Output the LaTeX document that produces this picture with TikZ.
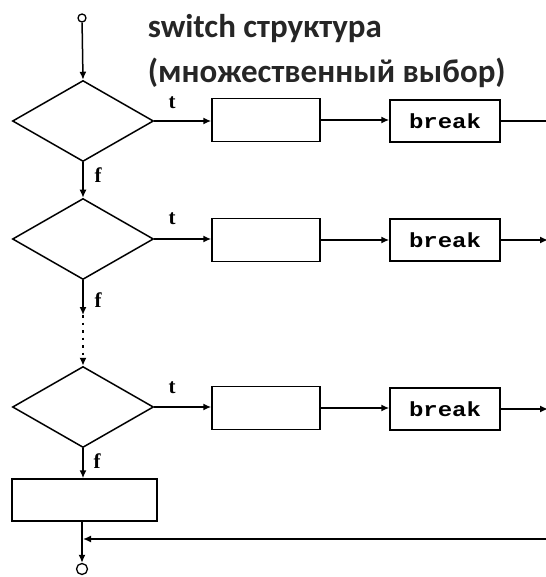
\documentclass[tikz,border=0pt]{standalone}
\usepackage{fontspec}
\setmainfont{Carlito}
\newfontfamily\monofont{Liberation Mono}
\newfontfamily\labfont{Liberation Serif}
\usetikzlibrary{shapes.geometric,arrows.meta}
\begin{document}
\begin{tikzpicture}[x=1pt,y=-1pt, line width=1.5pt,
  dec/.style={diamond, draw, minimum width=141pt, minimum height=81pt, inner sep=0pt},
  proc/.style={draw, minimum width=108pt, minimum height=43pt, inner sep=0pt},
  brk/.style={draw, minimum width=110pt, minimum height=42pt, inner sep=0pt, font=\monofont\bfseries\fontsize{24}{24}\selectfont},
  arr/.style={-{Latex[length=8pt,width=7pt]}},
  lab/.style={font=\labfont\bfseries\fontsize{21}{21}\selectfont},
  term/.style={circle, draw, line width=1.3pt, inner sep=0pt},
  ttl/.style={anchor=base west, inner sep=0pt, text=black!85, font=\bfseries\fontsize{33}{33}\selectfont}]
\useasboundingbox (0,0) rectangle (545,577);
% title
\node[ttl] (t1) at (147,38) {switch структура};
\node[ttl] (t2) at (147,83) {(множественный выбор)};
% nodes
\node[term, minimum size=8pt] (s) at (82,18) {};
\node[dec] (d1) at (83,121) {};
\node[dec] (d2) at (83,239) {};
\node[dec] (d3) at (83,407) {};
\node[proc] (p1) at (266,120) {};
\node[brk] (b1) at (445,121) {\scalebox{1}[0.85]{break}};
\node[proc] (p2) at (266,240) {};
\node[brk] (b2) at (445,240) {\scalebox{1}[0.85]{break}};
\node[proc] (p3) at (266,408) {};
\node[brk] (b3) at (445,409) {\scalebox{1}[0.85]{break}};
\node[draw, minimum width=145pt, minimum height=42pt, inner sep=0pt] (fin) at (84.5,500) {};
\node[term, minimum size=11pt] (e) at (82,569) {};
\coordinate (dots1) at (83,315);
\coordinate (r1) at (548,121);
\coordinate (r2) at (548,240);
\coordinate (r3) at (548,409);
\coordinate (rb) at (548,539);
\coordinate (j) at (83,539);
% connectors
\draw[arr] (s) -- (d1.north);
\draw[arr] (d1.east) -- (p1.west |- d1.east);
\draw[arr] (p1.east) -- (b1.west |- p1.east);
\draw (b1.east) -- (r1);
\draw[arr] (d1.south) -- (d2.north);
\draw[arr] (d2.east) -- (p2.west |- d2.east);
\draw[arr] (p2.east) -- (b2.west);
\draw[arr] (b2.east) -- (r2);
\draw[arr] (d2.south) -- (dots1);
\draw[arr, line width=2pt, dash pattern=on 2.5pt off 5pt] (dots1) -- (d3.north);
\draw[arr] (d3.east) -- (p3.west |- d3.east);
\draw[arr] (p3.east) -- (b3.west |- p3.east);
\draw[arr] (b3.east) -- (r3);
\draw[arr] (d3.south) -- (fin.north -| d3.south);
\draw[arr] (fin.south -| e) -- (e.north);
\draw[arr] (rb) -- (j);
% labels
\node[lab] (lt1) at (172,103) {t};
\node[lab] (lt2) at (172,219) {t};
\node[lab] (lt3) at (172,388) {t};
\node[lab] (lf1) at (98,175) {f};
\node[lab] (lf2) at (98,300) {f};
\node[lab] (lf3) at (97,461) {f};
\end{tikzpicture}
\end{document}
